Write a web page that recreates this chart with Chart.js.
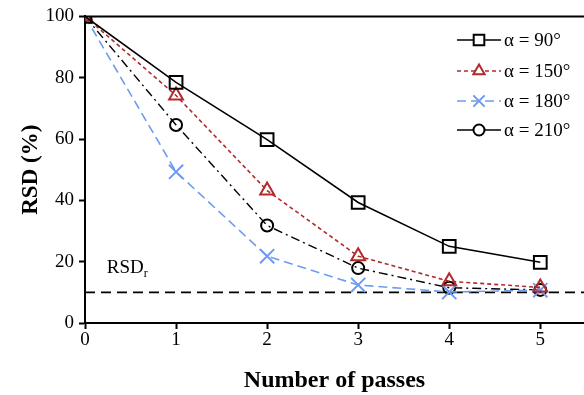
<!DOCTYPE html>
<html><head><meta charset="utf-8">
<script src="https://cdn.jsdelivr.net/npm/chart.js@4/dist/chart.umd.min.js"></script>
<style>html,body{margin:0;padding:0;background:#fff;overflow:hidden}#wrap{width:584px;height:395px}canvas{display:block}</style>
</head><body><div id="wrap"><canvas id="c" width="584" height="395"></canvas></div>
<script>
const passes = [0, 1, 2, 3, 4, 5];
const seriesLabels = ['α = 90°', 'α = 150°', 'α = 180°', 'α = 210°'];
const rsd90  = [100, 78.5, 59.8, 39.3, 25, 19.8];
const rsd150 = [100, 74.2, 43.2, 21.8, 13.6, 11.6];
const rsd180 = [100, 49.3, 21.8, 12.4, 10.1, 10.7];
const rsd210 = [100, 64.6, 31.8, 17.9, 11.5, 10.8];
const rsdR = 10;
const yTicks = [0, 20, 40, 60, 80, 100];
const xMax = 5.48;

const FONT = "'Liberation Serif', 'Times New Roman', serif";
const toXY = arr => arr.map((v, i) => ({x: passes[i], y: v}));

const styles = [
  {color:'#000000', dash:[], point:'rect', r:9, lr:7.5, w:1.6},
  {color:'#b22a2a', dash:[4,3], point:'triangle', r:8, lr:6.5, w:1.6},
  {color:'#6d9bf1', dash:[9,5], point:'crossRot', r:10, lr:8, w:1.6},
  {color:'#000000', dash:[9,4,2,4], point:'circle', r:6, lr:5.5, w:1.4}
];
const seriesData = [rsd90, rsd150, rsd180, rsd210];

const datasets = seriesData.map((d, i) => ({
  label: seriesLabels[i],
  data: toXY(d),
  borderColor: styles[i].color,
  borderWidth: styles[i].w,
  borderDash: styles[i].dash,
  pointStyle: styles[i].point,
  pointRadius: styles[i].r,
  pointBorderWidth: 2,
  pointBorderColor: styles[i].color,
  pointBackgroundColor: 'rgba(255,255,255,0)',
  fill: false,
  tension: 0
}));
datasets.push({
  label: 'RSDr',
  data: [{x: 0, y: rsdR}, {x: xMax, y: rsdR}],
  borderColor: '#000',
  borderWidth: 1.6,
  borderDash: [10, 6],
  pointRadius: 0,
  fill: false
});

const extras = {
  id: 'extras',
  afterDraw(chart) {
    const ctx = chart.ctx, a = chart.chartArea;
    const xs = chart.scales.x, ys = chart.scales.y;
    ctx.save();
    ctx.strokeStyle = '#000'; ctx.lineWidth = 2;
    ctx.beginPath(); ctx.moveTo(a.left, a.top); ctx.lineTo(a.right, a.top); ctx.stroke();
    ctx.fillStyle = '#000';
    ctx.font = "19px " + FONT;
    ctx.textBaseline = 'alphabetic';
    const lx = xs.getPixelForValue(0.24), ly = ys.getPixelForValue(16.3);
    ctx.fillText('RSD', lx, ly);
    const w = ctx.measureText('RSD').width;
    ctx.font = "12px " + FONT;
    ctx.fillText('r', lx + w, ly + 4);
    const rows = [40, 71, 101, 130];
    ctx.font = "19px " + FONT;
    ctx.textBaseline = 'middle';
    styles.forEach((s, i) => {
      const y = rows[i];
      ctx.strokeStyle = s.color; ctx.lineWidth = s.w;
      ctx.setLineDash(i === 3 ? [] : s.dash);
      ctx.beginPath(); ctx.moveTo(457, y); ctx.lineTo(501, y); ctx.stroke();
      ctx.setLineDash([]);
      ctx.lineWidth = 2;
      ctx.fillStyle = '#fff';
      Chart.helpers.drawPoint(ctx, {pointStyle: s.point, radius: s.lr, rotation: 0, borderWidth: 2}, 479, y);
      ctx.fillStyle = '#000';
      ctx.fillText(seriesLabels[i], 504, y + 1);
    });
    ctx.restore();
  }
};

new Chart(document.getElementById('c'), {
  type: 'line',
  data: {datasets},
  options: {
    responsive: false,
    animation: false,
    layout: {autoPadding: false, padding: {top: 11, right: 0, left: 17, bottom: 0}},
    plugins: {legend: {display: false}, tooltip: {enabled: false}},
    scales: {
      x: {
        type: 'linear', min: 0, max: xMax,
        afterBuildTicks: s => { s.ticks = passes.map(v => ({value: v})); },
        afterFit: s => { s.height = 72; },
        grid: {drawOnChartArea: false, drawTicks: true, tickLength: 6, color: '#000', tickWidth: 2},
        border: {color: '#000', width: 2},
        ticks: {color: '#000', font: {family: FONT, size: 19}, padding: 0, maxRotation: 0},
        title: {display: true, text: 'Number of passes', color: '#000', font: {family: FONT, size: 24, weight: 'bold'}, padding: {top: 0, bottom: 0}}
      },
      y: {
        type: 'linear', min: 0, max: 100,
        afterBuildTicks: s => { s.ticks = yTicks.map(v => ({value: v})); },
        afterFit: s => { s.width = 68; },
        grid: {drawOnChartArea: false, drawTicks: true, tickLength: 6, color: '#000', tickWidth: 2},
        border: {color: '#000', width: 2},
        ticks: {color: '#000', font: {family: FONT, size: 19}, padding: 5},
        title: {display: true, text: 'RSD (%)', color: '#000', font: {family: FONT, size: 23, weight: 'bold'}, padding: {top: 0, bottom: 2}}
      }
    }
  },
  plugins: [extras]
});
</script></body></html>
